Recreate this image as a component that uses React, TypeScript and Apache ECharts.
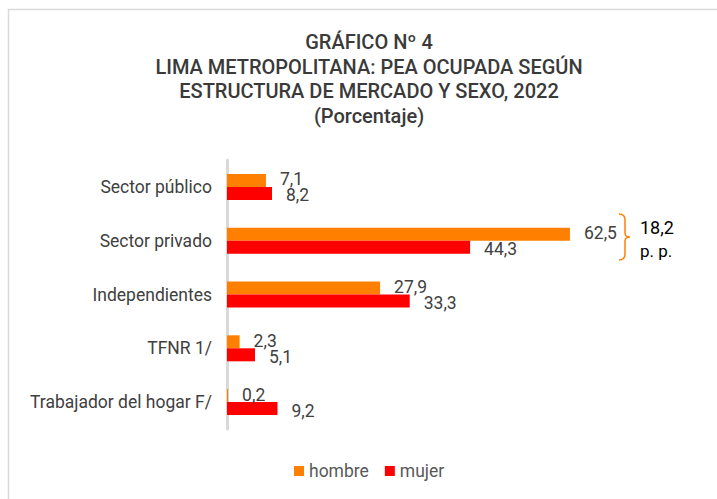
import React, { useEffect, useRef } from "react";
import * as echarts from "echarts";

const categories = ["Sector público", "Sector privado", "Independientes", "TFNR 1/", "Trabajador del hogar F/"];
const hombre = [7.1, 62.5, 27.9, 2.3, 0.2];
const mujer = [8.2, 44.3, 33.3, 5.1, 9.2];
const titleLines = ["GRÁFICO Nº 4", "LIMA METROPOLITANA: PEA OCUPADA SEGÚN", "ESTRUCTURA DE MERCADO Y SEXO, 2022", "(Porcentaje)"];
const gapValue = "18,2";
const gapUnit = "p. p.";

const fmt = (v: number) => v.toFixed(1).replace(".", ",");

echarts.graphic.registerShape(
  "brace",
  echarts.graphic.extendPath("M0,0 Q6,0 6,6 L6,19 Q6,23 11,23 Q6,23 6,27 L6,40 Q6,46 0,46", {})
);

export default function App() {
  const ref = useRef<HTMLDivElement>(null);
  useEffect(() => {
    if (!ref.current) return;
    const chart = echarts.init(ref.current, null, { renderer: "svg" });
    const font = "Roboto, 'Liberation Sans', sans-serif";
    chart.setOption({
      animation: false,
      textStyle: { fontFamily: font },
      title: {
        text: titleLines.join("\n"),
        left: 364,
        textAlign: "center",
        top: 25,
        textStyle: { fontSize: 20, fontWeight: 500, color: "#3a3a3a", lineHeight: 24.5, fontFamily: font },
      },
      legend: {
        bottom: 14,
        left: 289,
        itemWidth: 10,
        itemHeight: 10,
        itemGap: 16,
        icon: "rect",
        textStyle: { fontSize: 17.5, color: "#595959", fontFamily: font },
        data: ["hombre", "mujer"],
      },
      grid: { left: 227, top: 160, width: 439, height: 269, containLabel: false },
      xAxis: {
        type: "value",
        min: 0,
        max: 80,
        show: false,
      },
      yAxis: {
        type: "category",
        data: categories,
        inverse: true,
        axisLine: { show: true, lineStyle: { color: "#d9d9d9", width: 3 } },
        axisTick: { show: false },
        axisLabel: { fontSize: 17.5, color: "#404040", margin: 15, fontFamily: font },
      },
      series: [
        {
          name: "hombre",
          type: "bar",
          data: hombre,
          barWidth: 13,
          barGap: "0%",
          itemStyle: { color: "#FF8000" },
          label: {
            show: true,
            position: "right",
            distance: 14,
            offset: [0, -1],
            formatter: (p: any) => fmt(p.value),
            fontSize: 17.5,
            color: "#404040",
            fontFamily: font,
          },
        },
        {
          name: "mujer",
          type: "bar",
          data: mujer,
          barWidth: 13,
          barGap: "0%",
          itemStyle: { color: "#FF0000" },
          label: {
            show: true,
            position: "right",
            distance: 14,
            offset: [0, 2],
            formatter: (p: any) => fmt(p.value),
            fontSize: 17.5,
            color: "#404040",
            fontFamily: font,
          },
        },
      ],
      graphic: [
        {
          type: "rect",
          left: 6,
          top: 7,
          shape: { x: 0, y: 0, width: 730, height: 510 },
          style: { fill: "none", stroke: "#d9d9d9", lineWidth: 1.5 },
          silent: true,
        },
        {
          type: "brace",
          x: 619,
          y: 214,
          style: { fill: "none", stroke: "#FF8000", lineWidth: 1.5 },
          silent: true,
        },
        {
          type: "text",
          x: 640,
          y: 227,
          style: { text: gapValue, fill: "#000000", font: `18px ${font}`, textVerticalAlign: "middle" },
        },
        {
          type: "text",
          x: 640,
          y: 251,
          style: { text: gapUnit, fill: "#000000", font: `17px ${font}`, textVerticalAlign: "middle" },
        },
      ],
    });
    return () => chart.dispose();
  }, []);
  return <div ref={ref} style={{ width: 717, height: 499, position: "absolute", left: 0, top: 0 }} />;
}
